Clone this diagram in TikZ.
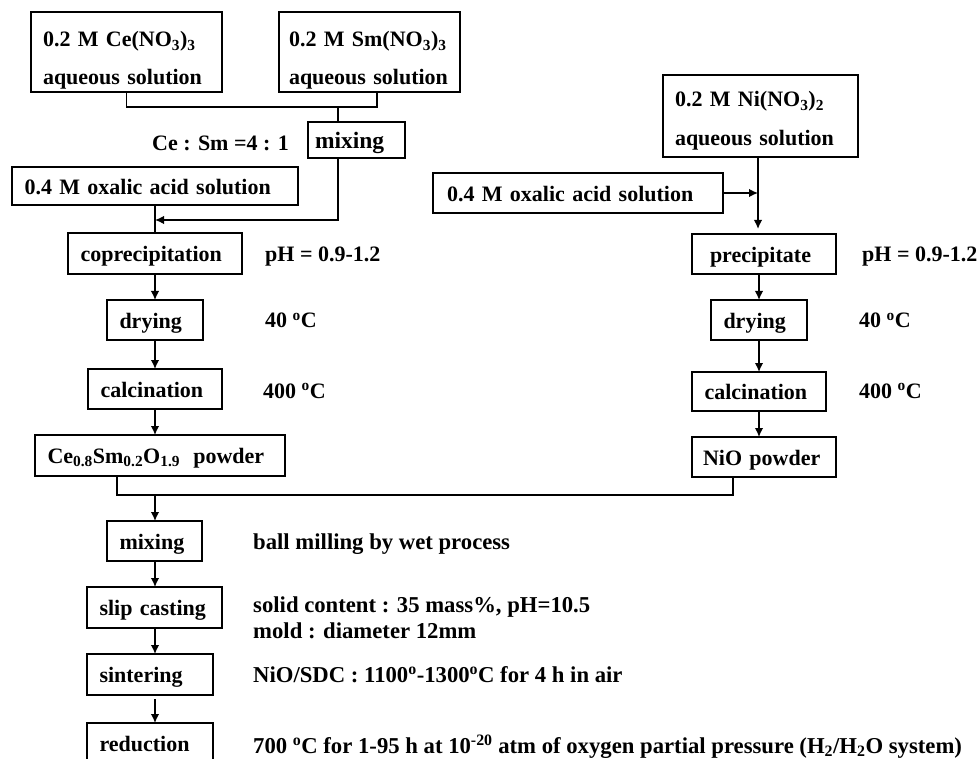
\documentclass[tikz,border=0pt]{standalone}
\usepackage{fontspec}
\setmainfont{Liberation Serif}
\usetikzlibrary{arrows.meta}
\begin{document}
\begin{tikzpicture}[x=1pt,y=-1pt,
  every node/.style={font=\fontsize{22}{30}\selectfont\bfseries},
  box/.style={draw, line width=1.6pt, outer sep=0pt, anchor=north west,
    inner xsep=12.5pt, inner ysep=0pt, align=left, text height=16.5pt, text depth=0pt},
  lbl/.style={anchor=base west, inner sep=0pt},
  note/.style={lbl, font=\fontsize{22.7}{30}\selectfont\bfseries},
  ln/.style={line width=1.5pt},
  arr/.style={ln, -{Latex[length=9pt,width=8.5pt]}}]
\useasboundingbox (0,0) rectangle (980,759);

% ---- boxes, left branch
\node[box, inner xsep=12pt, text width=167pt, minimum height=80pt, text height=15pt, text depth=25pt] (ce) at (31,12)
  {0.2 M Ce(NO\textsubscript{3})\textsubscript{3}\\[7.6pt]aqueous solution};
\node[box, inner xsep=10pt, text width=161pt, minimum height=80pt, text height=15pt, text depth=25pt] (sm) at (279,12)
  {0.2 M Sm(NO\textsubscript{3})\textsubscript{3}\\[7.6pt]aqueous solution};
\node[box, inner xsep=7pt, text width=83pt, minimum height=36pt, font=\fontsize{23.5}{30}\selectfont\bfseries] (mix1) at (308,122) {mixing};
\node[box, text width=261pt, minimum height=38pt] (oxL) at (12,167) {0.4 M oxalic acid solution};
\node[box, text width=149pt, minimum height=41pt] (copr) at (68,233) {coprecipitation};
\node[box, text width=71pt, minimum height=40pt] (dryL) at (107,300) {drying};
\node[box, text width=109pt, minimum height=40pt] (calcL) at (88,369) {calcination};
\node[box, text width=225pt, minimum height=41pt] (ceo) at (35,435)
  {Ce\textsubscript{0.8}Sm\textsubscript{0.2}O\textsubscript{1.9}\hspace{0.6em}powder};

% ---- boxes, right branch
\node[box, inner xsep=12pt, text width=171pt, minimum height=82pt, text height=15pt, text depth=33pt] (ni) at (663,75)
  {0.2 M Ni(NO\textsubscript{3})\textsubscript{2}\\[8.6pt]aqueous solution};
\node[box, inner xsep=14pt, text width=262pt, minimum height=40pt] (oxR) at (433,173) {0.4 M oxalic acid solution};
\node[box, inner xsep=18pt, text width=108pt, minimum height=40pt] (prec) at (692,234) {precipitate};
\node[box, text width=71pt, minimum height=40pt] (dryR) at (711,300) {drying};
\node[box, text width=109pt, minimum height=39pt] (calcR) at (692,372) {calcination};
\node[box, inner xsep=11pt, text width=122pt, minimum height=40pt] (nio) at (692,437) {NiO powder};

% ---- boxes, common branch
\node[box, text width=70pt, minimum height=40pt] (mix2) at (107,521) {mixing};
\node[box, text width=110pt, minimum height=41pt] (slip) at (87,587) {slip casting};
\node[box, text width=101pt, minimum height=41pt] (sint) at (87,654) {sintering};
\node[box, text width=101pt, minimum height=41pt] (red) at (87,723) {reduction};

% ---- labels
\node[lbl] (ratio) at (152,151) {Ce : Sm =4 : 1};
\node[lbl] (phL) at (265,262) {pH = 0.9-1.2};
\node[lbl] (tdL) at (265,328) {40 \textsuperscript{o}C};
\node[lbl] (tcL) at (263,398) {400 \textsuperscript{o}C};
\node[lbl] (phR) at (862,262) {pH = 0.9-1.2};
\node[lbl] (tdR) at (859,328) {40 \textsuperscript{o}C};
\node[lbl] (tcR) at (859,398) {400 \textsuperscript{o}C};
\node[note] (tmix) at (253,549) {ball milling by wet process};
\node[note] (tslip1) at (253,612) {solid content : 35 mass\%, pH=10.5};
\node[note] (tslip2) at (253,638) {mold : diameter 12mm};
\node[note] (tsint) at (253,682) {NiO/SDC : 1100\textsuperscript{o}-1300\textsuperscript{o}C for 4 h in air};
\node[note] (tred) at (253,753) {700 \textsuperscript{o}C for 1-95 h at 10\textsuperscript{-20} atm of oxygen partial pressure (H\textsubscript{2}/H\textsubscript{2}O system)};

% ---- junction coordinates
\coordinate (jtop) at (338,107);
\coordinate (smx) at (377,0);
\coordinate (jL) at (155,220);
\coordinate (jR) at (758,195);
\coordinate (xr) at (759,0);
\coordinate (jB) at (155,495);
\coordinate (cbx) at (117,0);
\coordinate (nbx) at (733,0);

% ---- connectors, left
\draw[ln] (ce.south) |- (jtop) -| (sm.south -| smx);
\draw[ln] (jtop) -- (jtop |- mix1.north);
\draw[arr] (mix1.south -| jtop) |- (jL);
\draw[ln] (oxL.south -| jL) -- (copr.north -| jL);
\draw[arr] (copr.south -| jL) -- (dryL.north -| jL);
\draw[arr] (dryL.south -| jL) -- (calcL.north -| jL);
\draw[arr] (calcL.south -| jL) -- (ceo.north -| jL);

% ---- connectors, right
\draw[arr, shorten >=5pt] (ni.south -| jR) -- (prec.north -| jR);
\draw[arr] (oxR.east) -- (jR |- oxR.east);
\draw[arr] (prec.south -| xr) -- (dryR.north -| xr);
\draw[arr] (dryR.south -| xr) -- (calcR.north -| xr);
\draw[arr] (calcR.south -| xr) -- (nio.north -| xr);

% ---- merge and common branch
\draw[ln] (ceo.south -| cbx) -- (cbx |- jB) -- (nbx |- jB) -- (nio.south -| nbx);
\draw[arr] (jB) -- (mix2.north -| jB);
\draw[arr] (mix2.south -| jB) -- (slip.north -| jB);
\draw[arr] (slip.south -| jB) -- (sint.north -| jB);
\draw[arr, shorten <=4pt] (sint.south -| jB) -- (red.north -| jB);
\end{tikzpicture}
\end{document}
